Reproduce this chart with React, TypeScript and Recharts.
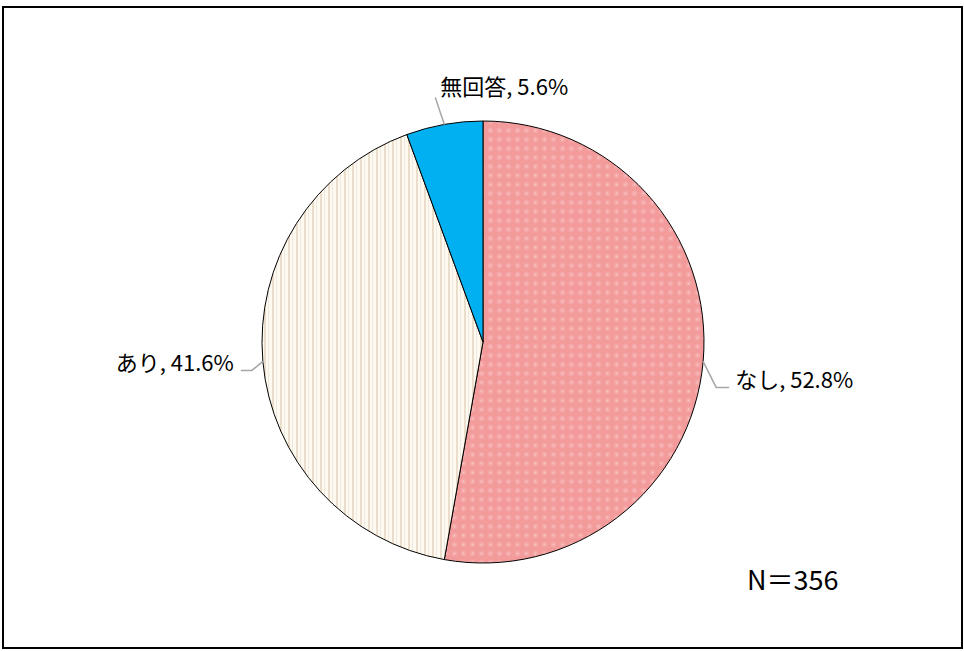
import { PieChart, Pie, Cell } from "recharts";

const categories = ["なし", "あり", "無回答"];
const percents = [52.8, 41.6, 5.6];
const totalN = 356;

const fills = ["url(#dotPink)", "url(#stripeCream)", "#00B0F0"];

// leader line / label placement per slice: elbow offset, horizontal run, text offset
const labelLayout = [
  { dx: 13, dy: 26, run: 13, anchor: "start", tdx: 6, tdy: -9 },
  { dx: -11, dy: 9, run: -11, anchor: "end", tdx: -7, tdy: -9 },
  { dx: -9, dy: -27, run: 0, anchor: "start", tdx: 5, tdy: -12 },
];

const data = categories.map((name, i) => ({ name, value: percents[i] }));

const FONT = "'Noto Sans CJK JP', 'Noto Sans', sans-serif";

// eslint-disable-next-line @typescript-eslint/no-explicit-any
function renderLabel(props: any) {
  const { cx, cy, midAngle, outerRadius, index } = props;
  const rad = (Math.PI / 180) * midAngle;
  const x0 = cx + outerRadius * Math.cos(rad);
  const y0 = cy - outerRadius * Math.sin(rad);
  const lay = labelLayout[index];
  const x1 = x0 + lay.dx;
  const y1 = y0 + lay.dy;
  const x2 = x1 + lay.run;
  const text = `${categories[index]}, ${percents[index].toFixed(1)}%`;
  return (
    <g key={`lbl-${index}`}>
      <polyline
        points={`${x0},${y0} ${x1},${y1} ${x2},${y1}`}
        fill="none"
        stroke="#A6A6A6"
        strokeWidth={1.5}
      />
      <text
        x={x2 + lay.tdx}
        y={y1 + lay.tdy}
        textAnchor={lay.anchor}
        dominantBaseline="central"
        fontSize={22}
        fontFamily={FONT}
        fill="#000"
      >
        {text}
      </text>
    </g>
  );
}

export default function App() {
  return (
    <div
      style={{
        position: "absolute",
        left: 0,
        top: 0,
        width: 964,
        height: 651,
        background: "#fff",
      }}
    >
      <PieChart width={964} height={651} margin={{ top: 0, right: 0, bottom: 0, left: 0 }}>
        <defs>
          <pattern id="dotPink" width="9" height="9" patternUnits="userSpaceOnUse">
            <rect width="9" height="9" fill="#F39A9A" />
            <circle cx="4.5" cy="4.5" r="3" fill="#F5A6A6" />
            <circle cx="4.5" cy="4.5" r="0.9" fill="#FAC8C8" />
          </pattern>
          <pattern id="stripeCream" width="8" height="8" patternUnits="userSpaceOnUse">
            <rect width="8" height="8" fill="#FFFAF0" />
            <rect x="0" width="2" height="8" fill="#EBDDCB" />
            <rect x="4" width="1" height="8" fill="#EEE8E2" />
          </pattern>
        </defs>
        <rect x={3} y={7} width={959} height={641} fill="none" stroke="#000" strokeWidth={2} />
        <Pie
          data={data}
          dataKey="value"
          nameKey="name"
          cx={483}
          cy={342}
          outerRadius={221}
          startAngle={90}
          endAngle={-270}
          stroke="#000"
          strokeWidth={1}
          label={renderLabel}
          labelLine={false}
          isAnimationActive={false}
        >
          {data.map((d, i) => (
            <Cell key={d.name} fill={fills[i]} />
          ))}
        </Pie>
        <text
          x={747}
          y={578}
          dominantBaseline="central"
          fontSize={27}
          fontFamily={FONT}
          fill="#000"
        >
          {`N＝${totalN}`}
        </text>
      </PieChart>
    </div>
  );
}
